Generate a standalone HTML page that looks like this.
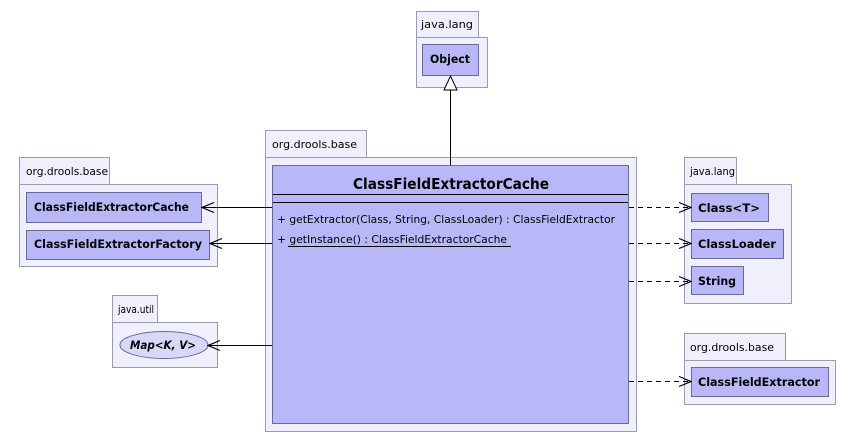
<!DOCTYPE html>
<html><head><style>
body{margin:0;background:#fff;}
svg text{font-family:"DejaVu Sans","Liberation Sans",sans-serif;}
</style></head><body>
<svg width="855" height="443" xmlns="http://www.w3.org/2000/svg">
<defs>
<marker id="op" markerWidth="14" markerHeight="12" refX="13" refY="6" orient="auto" markerUnits="userSpaceOnUse">
<path d="M1,1 L13,6 L1,11" fill="none" stroke="#000" stroke-width="1.2"/></marker>
</defs>
<g stroke="#9a9ab0" fill="#f0f0fc" stroke-width="1">
<rect x="416.5" y="11.5" width="62" height="26"/><rect x="416.5" y="37.5" width="71" height="50"/>
<rect x="265.5" y="130.5" width="101" height="27"/><rect x="265.5" y="157.5" width="371" height="274"/>
<rect x="19.5" y="157.5" width="90" height="27"/><rect x="19.5" y="184.5" width="198" height="82"/>
<rect x="112.5" y="295.5" width="45" height="27"/><rect x="112.5" y="322.5" width="105" height="45"/>
<rect x="684.5" y="157.5" width="52" height="27"/><rect x="684.5" y="184.5" width="107" height="119"/>
<rect x="684.5" y="333.5" width="101" height="27"/><rect x="684.5" y="360.5" width="151" height="44"/>
</g>
<g font-size="10.5" fill="#000">
<text x="421" y="28" textLength="52" lengthAdjust="spacingAndGlyphs">java.lang</text>
<text x="272" y="148" textLength="85" lengthAdjust="spacingAndGlyphs">org.drools.base</text>
<text x="26" y="175" textLength="82" lengthAdjust="spacingAndGlyphs">org.drools.base</text>
<text x="118" y="313" textLength="36" lengthAdjust="spacingAndGlyphs">java.util</text>
<text x="690" y="175" textLength="45" lengthAdjust="spacingAndGlyphs">java.lang</text>
<text x="690" y="351" textLength="84" lengthAdjust="spacingAndGlyphs">org.drools.base</text>
</g>
<g fill="#b8b8f8" stroke="#6a6a9a">
<rect x="422.5" y="44.5" width="56" height="31"/>
<rect x="272.5" y="165.5" width="356" height="258"/>
<rect x="26.5" y="192.5" width="175" height="30"/>
<rect x="26.5" y="230.5" width="183" height="29"/>
<rect x="691.5" y="193.5" width="77" height="28"/>
<rect x="691.5" y="229.5" width="92" height="29"/>
<rect x="691.5" y="266.5" width="52" height="28"/>
<rect x="691.5" y="367.5" width="137" height="29"/>
<ellipse cx="164" cy="345" rx="44" ry="13.5" fill="#d8d8f8"/>
</g>
<g font-size="11.5" font-weight="bold">
<text x="430" y="63" textLength="40" lengthAdjust="spacingAndGlyphs">Object</text>
<text x="34" y="211" textLength="155" lengthAdjust="spacingAndGlyphs">ClassFieldExtractorCache</text>
<text x="34" y="248" textLength="168" lengthAdjust="spacingAndGlyphs">ClassFieldExtractorFactory</text>
<text x="698" y="212" textLength="62" lengthAdjust="spacingAndGlyphs">Class&lt;T&gt;</text>
<text x="698" y="248" textLength="78" lengthAdjust="spacingAndGlyphs">ClassLoader</text>
<text x="698" y="285" textLength="38" lengthAdjust="spacingAndGlyphs">String</text>
<text x="698" y="386" textLength="122" lengthAdjust="spacingAndGlyphs">ClassFieldExtractor</text>
<text x="130" y="349" font-style="italic" textLength="66" lengthAdjust="spacingAndGlyphs">Map&lt;K, V&gt;</text>
<text x="353" y="189" font-size="15" textLength="196" lengthAdjust="spacingAndGlyphs">ClassFieldExtractorCache</text>
</g>
<line x1="273" y1="194.5" x2="628" y2="194.5" stroke="#000"/>
<line x1="273" y1="202.5" x2="628" y2="202.5" stroke="#000"/>
<g font-size="11">
<text x="277" y="223" textLength="338" lengthAdjust="spacingAndGlyphs">+ getExtractor(Class, String, ClassLoader) : ClassFieldExtractor</text>
<text x="277" y="243" textLength="230" lengthAdjust="spacingAndGlyphs">+ getInstance() : ClassFieldExtractorCache</text>
</g>
<line x1="288" y1="246.5" x2="511" y2="246.5" stroke="#000"/>
<g stroke="#000" stroke-width="1" fill="none">
<line x1="450.5" y1="165" x2="450.5" y2="90"/>
<path d="M444,90 L457,90 L450.5,76 Z" fill="#fff"/>
<line x1="272" y1="207.5" x2="202" y2="207.5" marker-end="url(#op)"/>
<line x1="272" y1="243.5" x2="210" y2="243.5" marker-end="url(#op)"/>
<line x1="272" y1="345.5" x2="208" y2="345.5" marker-end="url(#op)"/>
<g stroke-dasharray="5,4">
<line x1="629" y1="207.5" x2="691" y2="207.5" marker-end="url(#op)"/>
<line x1="629" y1="243.5" x2="691" y2="243.5" marker-end="url(#op)"/>
<line x1="629" y1="281.5" x2="691" y2="281.5" marker-end="url(#op)"/>
<line x1="629" y1="381.5" x2="691" y2="381.5" marker-end="url(#op)"/>
</g>
</g>
</svg>
</body></html>
